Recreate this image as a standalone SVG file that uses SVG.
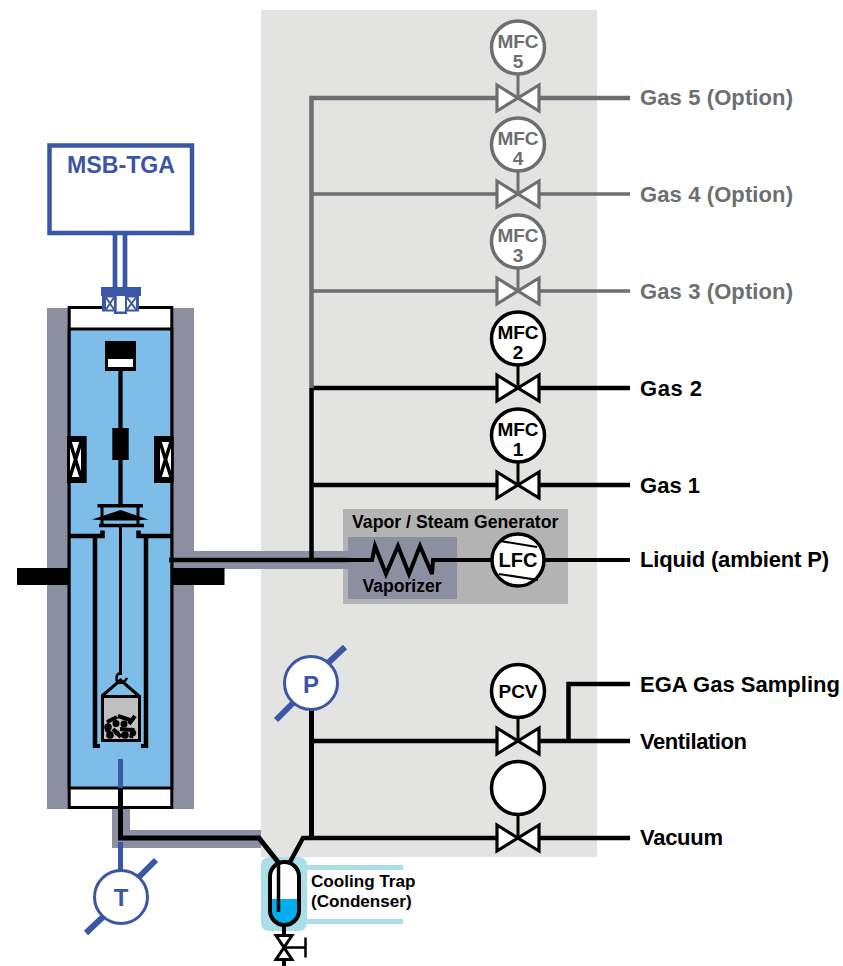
<svg xmlns="http://www.w3.org/2000/svg" width="843" height="966" viewBox="0 0 843 966">
<style>
text{font-family:"Liberation Sans",Arial,sans-serif;font-weight:700;fill:#000}
.lab{font-size:22px}
.g{fill:#6d6e71}
.inst{font-size:19px;text-anchor:middle}
.k{stroke:#000;fill:none}
.gy{stroke:#6d6e71;fill:none}
.bl{stroke:#3b56a6;fill:none}
.c{stroke-width:3.5}
.v{stroke-width:3.2;stroke-linejoin:miter}
</style>
<defs>
<g id="valve"><path d="M-21-13L21 13V-13L-21 13Z"/></g>
<g id="mx"><rect x="-5.500" y="-17.500" width="11" height="35" fill="#fff" stroke="none"/><path d="M-5.500-17.500L5.500 17.500M5.500-17.500L-5.500 17.500" stroke="#000" stroke-width="3.500" fill="none"/></g>
</defs>
<g id="panel"><rect x="261" y="10" width="336" height="847" fill="#e3e3e1"/></g>
<g id="generator">
<rect x="343" y="509" width="225" height="95" fill="#b3b3b3"/>
<rect x="348" y="537" width="109" height="62" fill="#8c8fa0"/>
</g>
<g id="insulation">
<rect x="47" y="308" width="147" height="501" fill="#8c8fa0"/>
<rect x="194" y="551" width="154" height="18" fill="#8c8fa0"/>
<path d="M112 808V848H261V830H130V808Z" fill="#8c8fa0"/>
</g>
<g id="chamber">
<rect x="69.200" y="307.500" width="102.600" height="500" fill="#fff" stroke="#000" stroke-width="3"/>
<rect x="69.200" y="329" width="102.600" height="459" fill="#7fbde9" stroke="#000" stroke-width="3"/>
<rect x="105" y="341" width="31" height="30" fill="#000"/>
<rect x="108" y="359" width="25" height="8" fill="#fff"/>
<path d="M120.500 370V506" class="k" stroke-width="4.300"/>
<rect x="112.300" y="428" width="16.400" height="32" fill="#000"/>
<rect x="67" y="436" width="19.700" height="47" fill="#000"/>
<rect x="154" y="436" width="19.700" height="47" fill="#000"/>
<use href="#mx" x="75.500" y="459.500"/>
<use href="#mx" x="165.500" y="459.500"/>
<path d="M97.500 505.700H143M99 525.500H144" class="k" stroke-width="3.500"/>
<path d="M102 505V526M138 505V526" class="k" stroke-width="3"/>
<path d="M92 519.500L120.500 510L148.500 519.500L136 520.500H105Z" fill="#000"/>
<path d="M120.500 525V675" class="k" stroke-width="3"/>
<path d="M68 536H102.500V530.500M173 536H138.500V530.500" class="k" stroke-width="4.500"/>
<path d="M95 536V748M146 536V748" class="k" stroke-width="4.500"/>
<path d="M93 746H100M141 746H148" class="k" stroke-width="4"/>
<rect x="17" y="568" width="52" height="17" fill="#000"/>
<rect x="172" y="568" width="52.500" height="17" fill="#000"/>
<path d="M120.500 673C115 674 115.500 683 120 683C124 683 126 680 127 678" class="k" stroke-width="2.500"/>
<path d="M102 696L120.500 680L139 696" class="k" stroke-width="3"/>
<rect x="102.500" y="696.500" width="37" height="44" fill="#bfbfbf" stroke="#000" stroke-width="3"/>
<g fill="#000"><circle cx="108" cy="727" r="3.800"/><circle cx="116" cy="723.500" r="3.500"/><circle cx="124" cy="724" r="3.500"/><circle cx="110" cy="735" r="3.800"/><circle cx="125" cy="735" r="3.800"/><circle cx="133" cy="733" r="3.200"/><circle cx="117" cy="733" r="2.500"/></g>
<path d="M107 722L117 717M118 716L130 720M129 724L135 716M113 729L121 737M133 728L131 738M106 729L110 733M120 729L131 730" class="k" stroke-width="4"/>
</g>
<g id="msb">
<rect x="49.500" y="145.500" width="142.500" height="87.500" fill="#fff" stroke="#3b56a6" stroke-width="4.500"/>
<text x="121" y="172.500" text-anchor="middle" style="font-size:23.200px;fill:#3b56a6">MSB-TGA</text>
<path d="M115 235V290M125 235V290" class="bl" stroke-width="4.700"/>
<rect x="101" y="287" width="40" height="9" fill="#3b56a6"/>
<rect x="102" y="296" width="37" height="15.500" fill="#3b56a6"/>
<path d="M106 297.500h8v12h-8zM127 297.500h9v12h-9z" fill="#fff"/>
<path d="M106 297.500l8 12M114 297.500l-8 12M127 297.500l9 12M136 297.500l-9 12" stroke="#3b56a6" stroke-width="2"/>
<rect x="114" y="294" width="13" height="20" fill="#3b56a6"/>
<rect x="116.700" y="296" width="8.300" height="15.500" fill="#fff"/>
</g>
<g id="tprobe">
<path d="M120.500 759V788" class="bl" stroke-width="5"/>
<path d="M120.500 842V871" class="bl" stroke-width="5"/>
<path d="M86 933L106 914M137 879L156 860" class="bl" stroke-width="6"/>
<circle cx="121" cy="897" r="26.500" fill="#fff" stroke="#3b56a6" stroke-width="3"/>
<text x="121" y="906" text-anchor="middle" style="font-size:24px;fill:#3b56a6">T</text>
</g>
<g id="trap">
<rect x="261" y="857" width="46" height="74" rx="8" fill="#aadfea"/>
<rect x="307" y="865" width="96" height="5" fill="#aadfea"/>
<rect x="307" y="919" width="96" height="5" fill="#aadfea"/>
<rect x="270" y="862" width="29" height="63" rx="14.500" fill="#fff"/>
<path d="M270 899H299V911A14.500 14 0 0 1 270 911Z" fill="#00aeef"/>
<rect x="270" y="862" width="29" height="63" rx="14.500" fill="none" stroke="#000" stroke-width="4"/>
<path d="M278.500 864V912" class="k" stroke-width="3.500"/>
<path d="M284 925V966" class="k" stroke-width="4"/>
<path d="M276 935.500H292L276 959.500H292Z" fill="#fff" stroke="#000" stroke-width="3"/>
<path d="M284 947.500H305.500M305.500 937.500V957.500" class="k" stroke-width="2.500"/>
<text x="311" y="887" style="font-size:17.100px">Cooling Trap</text>
<text x="311" y="907" style="font-size:17.100px">(Condenser)</text>
</g>
<g id="connectors">
<path d="M120.500 788V838H259L278 862" class="k" stroke-width="5"/>
<path d="M290 862L303 838H497M539 838H630" class="k" stroke-width="4.500"/>
<path d="M311.500 710V838" class="k" stroke-width="5"/>
<path d="M311.500 741H497M539 741H630M568.500 741V684H630" class="k" stroke-width="4.500"/>
<path d="M169 560H348" class="k" stroke-width="4.500"/>
<path d="M348 560H372L375 546L386 574L398 546L409 574L420 546L432 574L433 560H492M544 560H630" class="k" stroke-width="4"/>
<path d="M311.500 388V560" class="k" stroke-width="4.500"/>
<path d="M311.500 388H497M539 388H630M311.500 485H497M539 485H630" class="k" stroke-width="4.500"/>
<path d="M311.500 388V98H497M539 98H630" class="gy" stroke-width="4.500"/>
<path d="M311.500 194H497M539 194H630M311.500 291H497M539 291H630" class="gy" stroke-width="3.500"/>
<path d="M518 74V98M518 171V194M518 268V291" class="gy" stroke-width="3"/>
<path d="M518 365V388M518 462V485M518 717V741M518 814V838" class="k" stroke-width="3"/>
</g>
<g id="pgauge">
<path d="M276 720L293 703M328 663L345 647" class="bl" stroke-width="6"/>
<circle cx="311" cy="683" r="26.500" fill="#fff" stroke="#3b56a6" stroke-width="3"/>
<text x="311" y="693" text-anchor="middle" style="font-size:24px;fill:#3b56a6">P</text>
</g>
<g id="mfc5"><circle class="c gy" cx="518" cy="47.500" r="26.500" style="fill:#fff"/><text class="inst g" x="518" y="48">MFC</text><text class="inst g" x="518" y="68">5</text><use href="#valve" x="518" y="98" class="v gy" style="fill:#fff"/></g>
<g id="mfc4"><circle class="c gy" cx="518" cy="144.500" r="26.500" style="fill:#fff"/><text class="inst g" x="518" y="145">MFC</text><text class="inst g" x="518" y="165">4</text><use href="#valve" x="518" y="194" class="v gy" style="fill:#fff"/></g>
<g id="mfc3"><circle class="c gy" cx="518" cy="241.500" r="26.500" style="fill:#fff"/><text class="inst g" x="518" y="242">MFC</text><text class="inst g" x="518" y="262">3</text><use href="#valve" x="518" y="291" class="v gy" style="fill:#fff"/></g>
<g id="mfc2"><circle class="c k" cx="518" cy="338.500" r="26.500" style="fill:#fff"/><text class="inst" x="518" y="339">MFC</text><text class="inst" x="518" y="359">2</text><use href="#valve" x="518" y="388" class="v k" style="fill:#fff"/></g>
<g id="mfc1"><circle class="c k" cx="518" cy="435.500" r="26.500" style="fill:#fff"/><text class="inst" x="518" y="436">MFC</text><text class="inst" x="518" y="456">1</text><use href="#valve" x="518" y="485" class="v k" style="fill:#fff"/></g>
<g id="lfc">
<circle class="c k" cx="518" cy="560" r="26" style="fill:#fff"/>
<path d="M500 541L537 547M499 574L538 580" class="k" stroke-width="2"/>
<text x="518" y="567" class="inst" style="font-size:20px">LFC</text>
</g>
<g id="pcv"><circle class="c k" cx="518" cy="691" r="26.500" style="fill:#fff"/><text class="inst" x="518" y="698">PCV</text><use href="#valve" x="518" y="741" class="v k" style="fill:#fff"/></g>
<g id="vac"><circle class="c k" cx="518" cy="788" r="26.500" style="fill:#fff"/><use href="#valve" x="518" y="838" class="v k" style="fill:#fff"/></g>
<g id="labels">
<text x="352" y="528" style="font-size:17.700px">Vapor / Steam Generator</text>
<text x="402" y="592" text-anchor="middle" style="font-size:17.600px">Vaporizer</text>
<text class="lab g" x="640" y="105" textLength="153">Gas 5 (Option)</text>
<text class="lab g" x="640" y="202" textLength="153">Gas 4 (Option)</text>
<text class="lab g" x="640" y="299" textLength="153">Gas 3 (Option)</text>
<text class="lab" x="640" y="396" textLength="62">Gas 2</text>
<text class="lab" x="640" y="493" textLength="60">Gas 1</text>
<text class="lab" x="640" y="567" textLength="189">Liquid (ambient P)</text>
<text class="lab" x="640" y="692" textLength="200">EGA Gas Sampling</text>
<text class="lab" x="640" y="749" textLength="107">Ventilation</text>
<text class="lab" x="640" y="845" textLength="83">Vacuum</text>
</g>
</svg>
